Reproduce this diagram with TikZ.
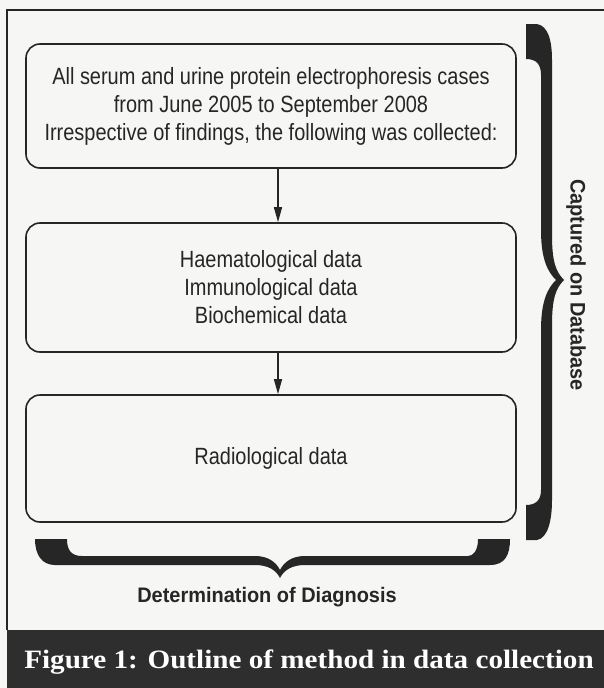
\documentclass[tikz,border=0pt]{standalone}
\usepackage{fontspec}
\setmainfont{Liberation Serif}
\newfontfamily\narrowsans{Liberation Sans}[FakeStretch=0.85]
\newfontfamily\labelsans{Liberation Sans}[FakeStretch=0.95]
\newfontfamily\wideserif{Liberation Serif}[FakeStretch=1.1]
\usetikzlibrary{arrows.meta,positioning}

\definecolor{inkgray}{HTML}{262626}
\definecolor{paper}{HTML}{F6F6F4}
\definecolor{bandgray}{HTML}{2E2E2E}

\tikzset{
  databox/.style={draw=inkgray, line width=1.6pt, rounded corners=14pt,
    minimum width=490pt, align=center, text=inkgray,
    font=\narrowsans\fontsize{23.5}{28}\selectfont},
  flowarrow/.style={-{Triangle[length=15pt,width=8pt]}, line width=1.4pt, draw=inkgray},
  bracelabel/.style={text=inkgray, font=\labelsans\bfseries\fontsize{21}{24}\selectfont},
}

\begin{document}
\begin{tikzpicture}[x=1pt,y=-1pt]
  \useasboundingbox (0,0) rectangle (604,688);
  \fill[paper] (0,0) rectangle (604,688);

  % Frame and caption band
  \draw[inkgray,line width=1.8pt] (604,10) -| (7,630);
  \fill[bandgray] (7,630) rectangle (604,688);
  \node (caption) at (309,662) [text=white, font=\wideserif\bfseries\fontsize{26.5}{30}\selectfont]
    {Figure 1: Outline of method in data collection};

  % Boxes
  \node (cases) at (271,106) [databox, minimum height=124pt]
    {All serum and urine protein electrophoresis cases\\
     from June 2005 to September 2008\\
     Irrespective of findings, the following was collected:};
  \node (labdata) at (271,287.5) [databox, minimum height=129pt]
    {Haematological data\\ Immunological data\\ Biochemical data};
  \node (radio) at (271,458.5) [databox, minimum height=127pt]
    {Radiological data};

  % Arrows
  \draw[flowarrow] ([xshift=7pt]cases.south) -- ([xshift=7pt]labdata.north);
  \draw[flowarrow] ([xshift=7pt]labdata.south) -- ([xshift=7pt]radio.north);

  % Right brace
  \fill[inkgray] (526,24) -- (537,24)
    .. controls (548,26) and (552,40) .. (552,60) -- (552,235)
    .. controls (552,262) and (556,272) .. (564,280)
    .. controls (556,288) and (552,298) .. (552,325) -- (552,500)
    .. controls (552,520) and (548,538) .. (537,540) -- (526,540) -- (526,505)
    .. controls (536,505) and (541,500) .. (541,490) -- (541,330)
    .. controls (541,300) and (548,288) .. (556,280)
    .. controls (548,272) and (541,260) .. (541,230) -- (541,75)
    .. controls (541,64) and (536,59) .. (526,59) -- cycle;
  \node (database) at (576,285) [bracelabel, rotate=-90] {Captured on Database};

  % Bottom brace
  \fill[inkgray] (35,539) -- (67,539)
    .. controls (67,551) and (72,556) .. (82,556) -- (255,556)
    .. controls (268,556) and (276,562) .. (280,570)
    .. controls (284,562) and (292,556) .. (305,556) -- (468,556)
    .. controls (473,556) and (478,551) .. (478,539) -- (510,539)
    .. controls (510,555) and (505,565) .. (490,565) -- (305,565)
    .. controls (292,565) and (284,570) .. (280,578)
    .. controls (276,570) and (268,565) .. (255,565) -- (55,565)
    .. controls (42,565) and (35,555) .. (35,539) -- cycle;
  \node (diagnosis) at (267,597) [bracelabel] {Determination of Diagnosis};
\end{tikzpicture}
\end{document}
